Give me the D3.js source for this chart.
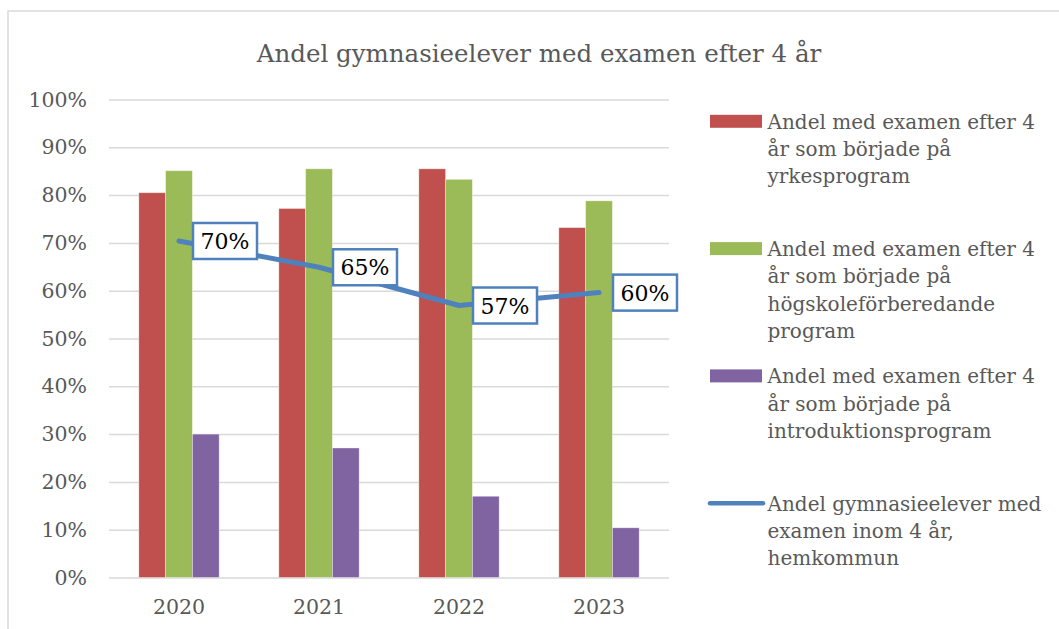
<!DOCTYPE html>
<html>
<head>
<meta charset="utf-8">
<script src="https://cdn.jsdelivr.net/npm/d3@7"></script>
<style>
  body { margin: 0; background: #ffffff; }
  svg { display: block; }
</style>
</head>
<body>
<svg id="chart" width="1059" height="629"></svg>
<script>
// data
const years = ["2020", "2021", "2022", "2023"];
const yrkes = [0.805, 0.772, 0.855, 0.732];
const hogskole = [0.851, 0.855, 0.833, 0.788];
const intro = [0.300, 0.271, 0.170, 0.104];
const hemkommun = [0.704, 0.649, 0.569, 0.596];
const hemkommunLabels = ["70%", "65%", "57%", "60%"];
const yTicks = [0, 0.1, 0.2, 0.3, 0.4, 0.5, 0.6, 0.7, 0.8, 0.9, 1.0];

const barSeries = [
  { key: "yrkes", values: yrkes, color: "#c0504d",
    label: ["Andel med examen efter 4", "år som började på", "yrkesprogram"] },
  { key: "hogskole", values: hogskole, color: "#9bbb59",
    label: ["Andel med examen efter 4", "år som började på", "högskoleförberedande", "program"] },
  { key: "intro", values: intro, color: "#8064a2",
    label: ["Andel med examen efter 4", "år som började på", "introduktionsprogram"] }
];
const lineLabel = ["Andel gymnasieelever med", "examen inom 4 år,", "hemkommun"];
const lineColor = "#4f81bd";

const font = "'DejaVu Serif', serif";
const grey = "#595959";

const svg = d3.select("#chart");

// outer chart frame
svg.append("rect")
  .attr("x", 8).attr("y", 11)
  .attr("width", 1100).attr("height", 700)
  .attr("fill", "#ffffff")
  .attr("stroke", "#d9d9d9")
  .attr("stroke-width", 1.5)

svg.append("text")
  .attr("x", 539).attr("y", 62)
  .attr("text-anchor", "middle")
  .attr("font-family", font)
  .attr("font-size", 24.5)
  .attr("fill", grey)
  .text("Andel gymnasieelever med examen efter 4 år")

const plot = { left: 109, right: 669, top: 99.5, bottom: 577.5 };

const y = d3.scaleLinear().domain([0, 1]).range([plot.bottom, plot.top]);
const x0 = d3.scaleBand().domain(years)
  .range([plot.left, plot.right])
  .paddingInner(0.426).paddingOuter(0.213);
const x1 = d3.scaleBand().domain(barSeries.map(d => d.key))
  .range([0, x0.bandwidth()]);

// gridlines + y labels
const yAxis = d3.axisLeft(y)
  .tickValues(yTicks)
  .tickFormat(d3.format(".0%"))
  .tickSize(-(plot.right - plot.left))
  .tickPadding(22);

const gy = svg.append("g")
  .attr("transform", `translate(${plot.left},0)`)
  .call(yAxis);
gy.select(".domain").remove();
gy.selectAll(".tick line")
  .attr("stroke", "#d9d9d9")
  .attr("stroke-width", 1.5);
gy.selectAll(".tick text")
  .attr("font-family", font)
  .attr("font-size", 20.5)
  .attr("fill", grey);

// x labels
const xAxis = d3.axisBottom(x0).tickSize(0).tickPadding(22);
const gx = svg.append("g")
  .attr("transform", `translate(0,${plot.bottom})`)
  .call(xAxis);
gx.select(".domain").remove();
gx.selectAll(".tick text")
  .attr("font-family", font)
  .attr("font-size", 20.5)
  .attr("fill", grey);

// bars
const groups = svg.append("g").selectAll("g")
  .data(years)
  .enter().append("g")
  .attr("transform", d => `translate(${x0(d)},0)`);

groups.selectAll("rect")
  .data((yr, i) => barSeries.map(s => ({ key: s.key, color: s.color, v: s.values[i] })))
  .enter().append("rect")
  .attr("x", d => x1(d.key))
  .attr("width", x1.bandwidth())
  .attr("y", d => y(d.v))
  .attr("height", d => y(0) - y(d.v))
  .attr("fill", d => d.color)
  .attr("stroke", "#ffffff")
  .attr("stroke-opacity", 0.5)
  .attr("stroke-width", 0.75)

// line
const linePts = years.map((yr, i) => [x0(yr) + x0.bandwidth() / 2, y(hemkommun[i])]);
svg.append("path")
  .attr("d", d3.line()(linePts))
  .attr("fill", "none")
  .attr("stroke", lineColor)
  .attr("stroke-width", 5)
  .attr("stroke-linecap", "round")
  .attr("stroke-linejoin", "round")

// data label boxes
const lbl = svg.append("g").selectAll("g")
  .data(linePts)
  .enter().append("g")
  .attr("transform", d => `translate(${d[0] + 14},${d[1] - 18})`);
lbl.append("rect")
  .attr("width", 64).attr("height", 36)
  .attr("fill", "#ffffff")
  .attr("stroke", lineColor)
  .attr("stroke-width", 2.5)
lbl.append("text")
  .attr("x", 32).attr("y", 26)
  .attr("text-anchor", "middle")
  .attr("font-family", font)
  .attr("font-size", 22)
  .attr("fill", "#000000")
  .text((d, i) => hemkommunLabels[i])

// legend
const legendItems = barSeries.map(s => ({ color: s.color, label: s.label, line: false }))
  .concat([{ color: lineColor, label: lineLabel, line: true }]);

const leg = svg.append("g").selectAll("g")
  .data(legendItems)
  .enter().append("g")
  .attr("transform", (d, i) => `translate(710,${121.3 + i * 127.3})`);

leg.each(function(d) {
  const g = d3.select(this);
  if (d.line) {
    g.append("line")
      .attr("x1", 0).attr("x2", 53)
      .attr("y1", 0).attr("y2", 0)
      .attr("stroke", d.color)
      .attr("stroke-width", 4.5)
      .attr("stroke-linecap", "round")
  } else {
    g.append("rect")
      .attr("x", 0).attr("y", -6.5)
      .attr("width", 52).attr("height", 13)
      .attr("fill", d.color)
  }
  const t = g.append("text")
    .attr("font-family", font)
    .attr("font-size", 20)
    .attr("fill", grey);
  d.label.forEach((ln, k) => {
    t.append("tspan")
      .attr("x", 57.5)
      .attr("y", 7.5 + k * 27.3)
      .text(ln)
  })
});
</script>
</body>
</html>
